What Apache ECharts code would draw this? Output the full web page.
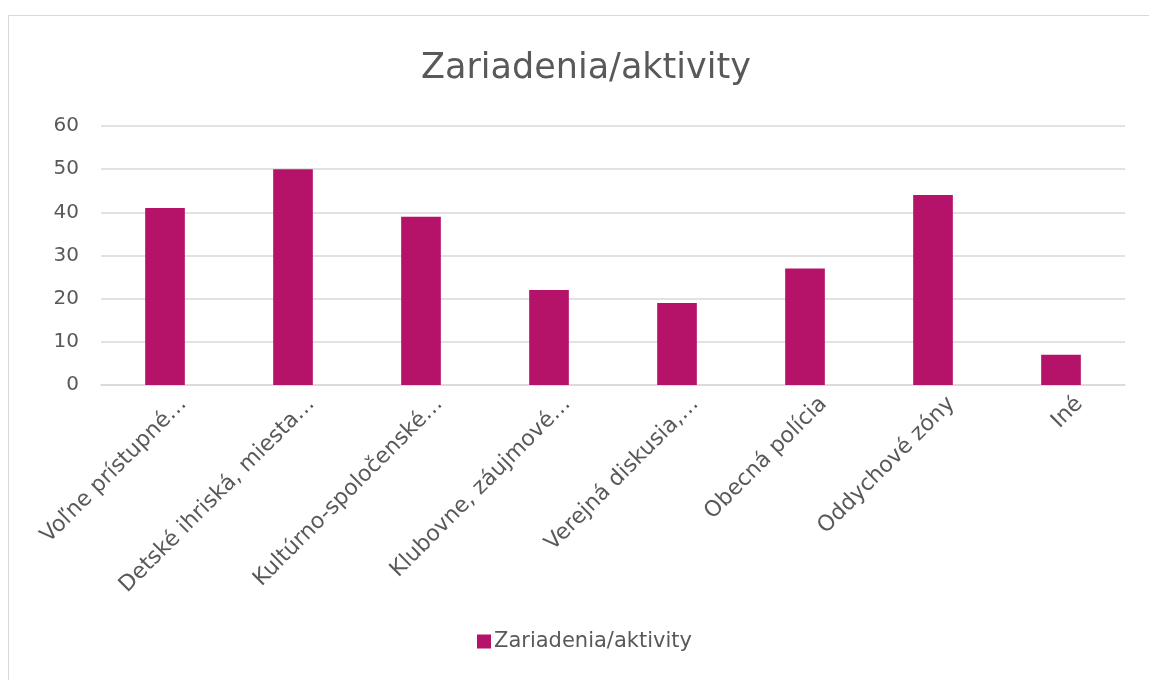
<!DOCTYPE html>
<html>
<head>
<meta charset="utf-8">
<script src="https://cdn.jsdelivr.net/npm/echarts@6/dist/echarts.min.js"></script>
<style>
  html, body { margin: 0; padding: 0; background: #fff; }
  #frame { position: absolute; left: 8px; top: 15px; width: 1160px; height: 700px; border: 1px solid #d9d9d9; }
  #chart { position: absolute; left: 0; top: 0; width: 1149px; height: 680px; }
</style>
</head>
<body>
<div id="frame"></div>
<div id="chart"></div>
<script>
// kategórie a hodnoty
const categories = ['Voľne prístupné…', 'Detské ihriská, miesta…', 'Kultúrno-spoločenské…', 'Klubovne, záujmové…', 'Verejná diskusia,…', 'Obecná polícia', 'Oddychové zóny', 'Iné']
const values = [41, 50, 39, 22, 19, 27, 44, 7]
const seriesName = 'Zariadenia/aktivity'
const yTicks = [0, 10, 20, 30, 40, 50, 60]

const font = 'DejaVu Sans'
const textColor = '#595959'

const myChart = echarts.init(document.getElementById('chart'))
const option = {
  animation: false,
  title: {
    text: seriesName,
    left: 416,
    top: 46,
    textStyle: { fontFamily: font, fontSize: 35, fontWeight: 'normal', color: textColor }
  },
  legend: {
    bottom: 23,
    left: 472,
    icon: 'rect',
    itemWidth: 14,
    itemHeight: 14,
    itemGap: 4,
    textStyle: { fontFamily: font, fontSize: 21, color: textColor, padding: [0, 0, 0, -2] }
  },
  grid: {
    left: 101,
    right: 24,
    top: 126,
    bottom: 295,
    containLabel: false
  },
  xAxis: {
    type: 'category',
    data: categories,
    axisTick: { show: false },
    axisLine: { lineStyle: { color: '#d9d9d9', width: 1.5 } },
    axisLabel: {
      rotate: 45,
      interval: 0,
      margin: 34,
      padding: [0, -26, 0, 0],
      fontFamily: font,
      fontSize: 22,
      color: textColor
    }
  },
  yAxis: {
    type: 'value',
    min: yTicks[0],
    max: yTicks[yTicks.length - 1],
    interval: 10,
    axisLine: { show: false },
    axisTick: { show: false },
    splitLine: { lineStyle: { color: '#d9d9d9', width: 1.5 } },
    axisLabel: { fontFamily: font, fontSize: 20, color: textColor, margin: 22 }
  },
  series: [{
    name: seriesName,
    type: 'bar',
    data: values,
    barWidth: '31%',
    itemStyle: { color: '#b5136a' }
  }]
}
myChart.setOption(option)
</script>
</body>
</html>
